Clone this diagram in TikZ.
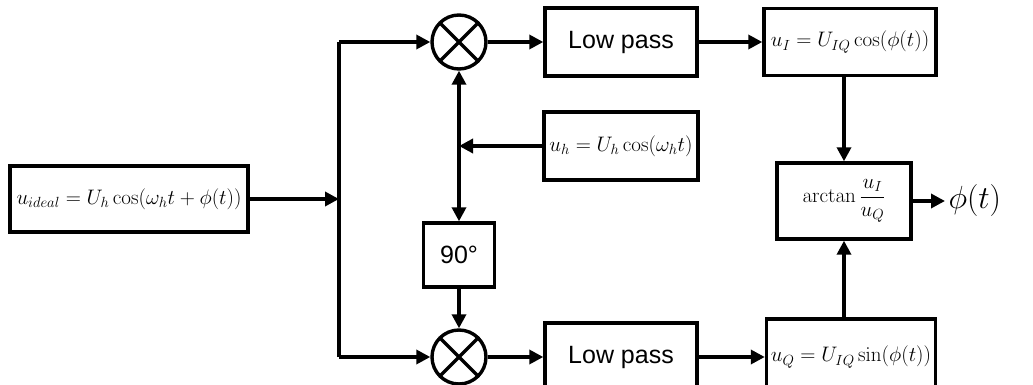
\RequirePackage{fix-cm}
\documentclass[tikz,border=0pt]{standalone}
\usepackage[no-math]{fontspec}
\setmainfont{Liberation Sans}
\usetikzlibrary{arrows.meta}
\tikzset{
  blk/.style={draw, line width=3.4pt, inner sep=0pt, align=center},
  lp/.style={blk, minimum width=152, minimum height=68, font=\fontsize{25}{30}\selectfont},
  mathbox/.style={blk, font=\fontsize{21}{25}\selectfont},
  mixer/.style={draw, circle, line width=3.4pt, minimum size=54, inner sep=0pt,
    path picture={\draw[line width=3.4pt] (path picture bounding box.north west) -- (path picture bounding box.south east)
      (path picture bounding box.north east) -- (path picture bounding box.south west);}},
  wire/.style={line width=3.4pt},
  arr/.style={wire, -{Triangle[length=14pt,width=14pt]}},
  darr/.style={wire, {Triangle[length=14pt,width=14pt]}-{Triangle[length=14pt,width=14pt]}},
}
\begin{document}
\begin{tikzpicture}[x=1pt,y=-1pt]
\useasboundingbox (0,0) rectangle (1033,385);
% nodes
\node[mathbox, minimum width=238, minimum height=66] (in) at (129,199) {$u_{ideal}=U_h\cos\bigl(\omega_h t+\phi(t)\bigr)$};
\node[mixer] (m1) at (459,42) {};
\node[mixer] (m2) at (459,357) {};
\coordinate (bus) at (339,42);
\coordinate (busb) at (339,357);
\node[lp] (lp1) at (621,42) {Low pass};
\node[lp] (lp2) at (621,357) {Low pass};
\node[mathbox, minimum width=154, minimum height=68] (uh) at (621,146) {$u_h=U_h\cos(\omega_h t)$};
\node[blk, minimum width=71, minimum height=64, font=\fontsize{25}{30}\selectfont] (p90) at (459,255) {90°};
\node[mathbox, minimum width=172, minimum height=67] (ui) at (850,42) {$u_I=U_{IQ}\cos\bigl(\phi(t)\bigr)$};
\node[mathbox, minimum width=169, minimum height=76] (uq) at (851,357) {$u_Q=U_{IQ}\sin\bigl(\phi(t)\bigr)$};
\node[mathbox, minimum width=134, minimum height=76] (at) at (844,201) {$\displaystyle\arctan\frac{u_I}{u_Q}$};
\node[font=\fontsize{32}{38}\selectfont, anchor=west] (out) at (945,201) {$\phi(t)$};
% connectors
\draw[arr] (in.east) -- (in.east -| bus);
\draw[wire] (busb) -- (bus);
\draw[arr] (bus) -- (m1.west);
\draw[arr] (busb) -- (m2.west);
\draw[arr] (m1.east) -- (lp1.west);
\draw[arr] (m2.east) -- (lp2.west);
\draw[arr] (lp1.east) -- (ui.west |- lp1.east);
\draw[arr] (lp2.east) -- (uq.west |- lp2.east);
\draw[darr] (m1.south) -- (p90.north);
\draw[arr] (uh.west) -- (uh.west -| m1.south);
\draw[arr] (p90.south) -- (m2.north);
\draw[arr] (ui.south -| at.north) -- (at.north);
\draw[arr] (uq.north -| at.south) -- (at.south);
\draw[arr] (at.east) -- (out.west);
\end{tikzpicture}
\end{document}
